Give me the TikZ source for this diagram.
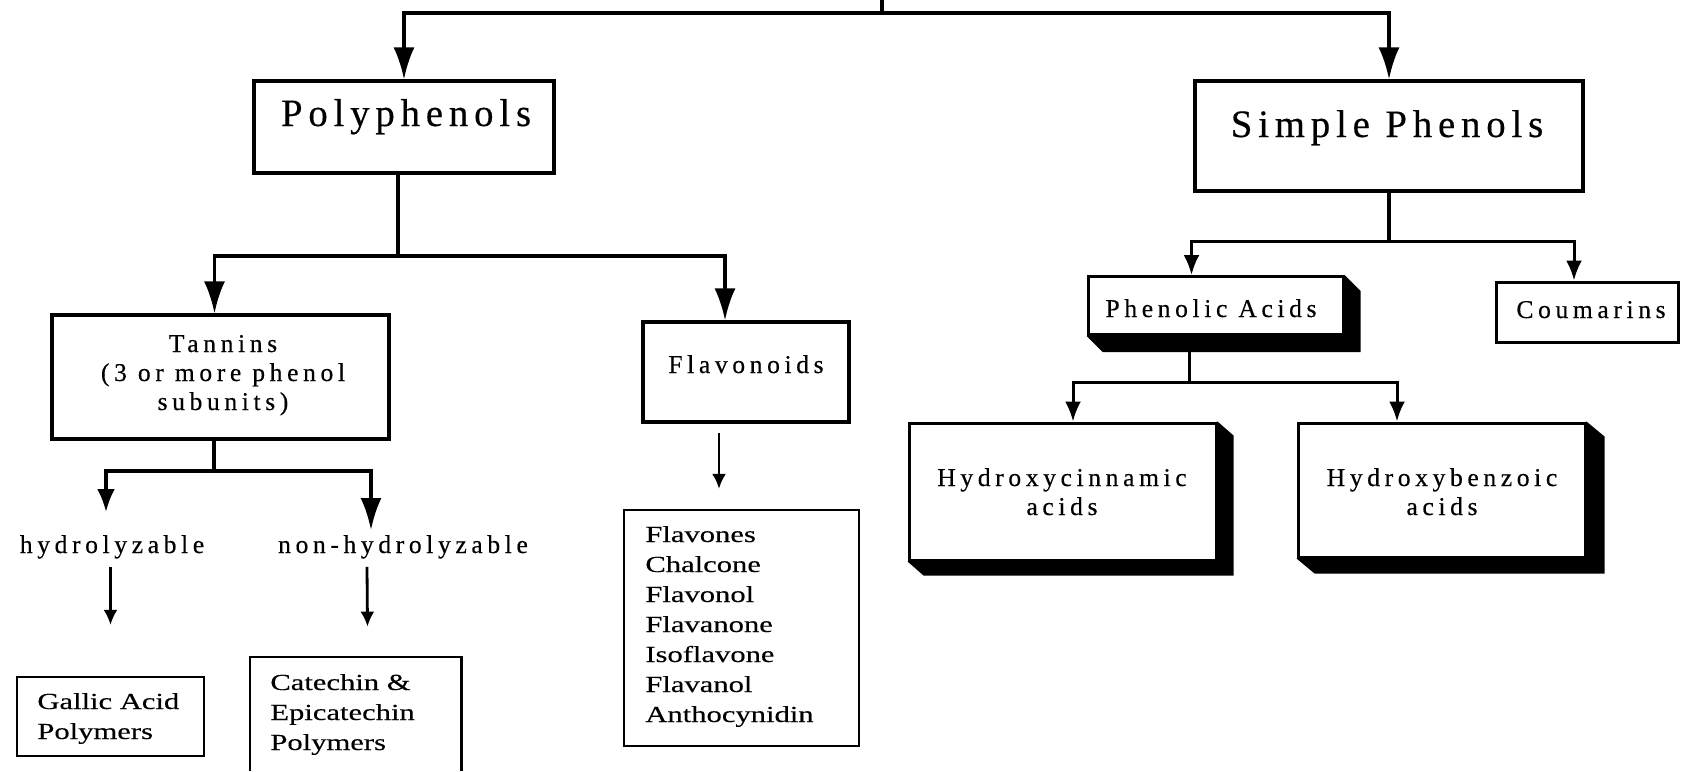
\documentclass[tikz,border=0pt]{standalone}
\usepackage{fontspec}
\setmainfont{Liberation Serif}
\newfontfamily\hdfont[LetterSpace=15,FakeBold=0.4]{Liberation Serif}
\newfontfamily\mdfont[LetterSpace=18,FakeBold=0.4]{Liberation Serif}
\newfontfamily\lsfont[FakeStretch=1.33,FakeBold=0.3]{Liberation Serif}
\usetikzlibrary{arrows.meta,backgrounds}
\tikzset{
  ln/.style={line width=1.7pt},
  lnb/.style={line width=1.5pt},
  bigarr/.style={ln,-{Latex[length=16pt,width=10.5pt]}},
  midarr/.style={ln,-{Latex[length=11.5pt,width=9pt]}},
  smarr/.style={line width=1.4pt,-{Latex[length=7.5pt,width=7pt]}},
  sparr/.style={lnb,-{Latex[length=10pt,width=8pt]}},
  box/.style={draw, line width=1.6pt, inner sep=0pt, fill=white},
  sbox/.style={draw, line width=1.5pt, inner sep=0pt, fill=white},
  thinbox/.style={draw, line width=1.1pt, inner sep=0pt},
  hd/.style={font=\hdfont\fontsize{19.4}{23}\selectfont, inner sep=0pt, anchor=base},
  md/.style={font=\mdfont\fontsize{12.8}{14.5}\selectfont, inner sep=0pt, anchor=base, align=center},
  ls/.style={font=\lsfont\fontsize{11.5}{15}\selectfont, inner sep=0pt, anchor=base west, align=left},
  shadowfill/.style={fill=black}
}
\begin{document}
\begin{tikzpicture}[x=0.5pt,y=-0.5pt]
\useasboundingbox (0,0) rectangle (1681,771);

% boxes
\node[box, minimum width=150pt, minimum height=46pt] (poly) at (404,127) {};
\node[box, minimum width=194pt, minimum height=55pt] (simple) at (1389,136) {};
\node[box, minimum width=168.5pt, minimum height=62pt] (tannins) at (220.5,377) {};
\node[box, minimum width=103pt, minimum height=50pt] (flav) at (746,372) {};
\node[thinbox, minimum width=93.5pt, minimum height=39.5pt] (gallic) at (110.5,716.5) {};
\node[inner sep=0pt, minimum width=105.5pt, minimum height=57pt] (cat) at (355.5,714) {};
\draw[line width=1.1pt] (cat.south west) |- (cat.north east) -- (cat.south east);
\node[thinbox, minimum width=117.5pt, minimum height=118pt] (flavlist) at (741.5,628) {};
\node[sbox, minimum width=127.5pt, minimum height=29pt] (phen) at (1215.5,305.5) {};
\node[sbox, minimum width=91pt, minimum height=30pt] (coum) at (1587,312) {};
\node[sbox, minimum width=153.5pt, minimum height=68.5pt] (hcin) at (1062.5,491.5) {};
\node[sbox, minimum width=143.5pt, minimum height=67pt] (hbenz) at (1441.5,490) {};

% 3D shadows
\begin{scope}[on background layer]
\fill[shadowfill] (phen.north east) -- ++(8pt,-8pt) -- ([shift={(8pt,-8pt)}]phen.south east) -- ([shift={(8pt,-8pt)}]phen.south west) -- (phen.south west) -- cycle;
\fill[shadowfill] (hcin.north east) -- ++(8pt,-7pt) -- ([shift={(8pt,-7pt)}]hcin.south east) -- ([shift={(8pt,-7pt)}]hcin.south west) -- (hcin.south west) -- cycle;
\fill[shadowfill] (hbenz.north east) -- ++(9pt,-7.5pt) -- ([shift={(9pt,-7.5pt)}]hbenz.south east) -- ([shift={(9pt,-7.5pt)}]hbenz.south west) -- (hbenz.south west) -- cycle;
\end{scope}

% texts
\node[hd] (polyT) at (406,126) {Polyphenols};
\node[hd] (simpleT) at (1387,137) {Simple Phenols};
\node[md] (tanT) at (223,410) {Tannins\\(3 or more phenol\\subunits)};
\node[md] (flavT) at (746,373) {Flavonoids};
\node[md] (hyd) at (112,553) {hydrolyzable};
\node[md] (nh) at (403,553) {non-hydrolyzable};
\node[ls] (gallicT) at (37,739) {Gallic Acid\\Polymers};
\node[ls] (catT) at (270,750) {Catechin \&\\Epicatechin\\Polymers};
\node[ls] (flavlistT) at (645,722) {Flavones\\Chalcone\\Flavonol\\Flavanone\\Isoflavone\\Flavanol\\Anthocynidin};
\node[md] (phenT) at (1211,317) {Phenolic Acids};
\node[md] (coumT) at (1591,318) {Coumarins};
\node[md] (hcinT) at (1062,515) {Hydroxycinnamic\\acids};
\node[md] (hbenzT) at (1442,515) {Hydroxybenzoic\\acids};

% connectors
\coordinate (rootstub) at (882,0);
\coordinate (rootj) at (882,13);
\draw[ln] (rootstub) -- (rootj);
\draw[bigarr] (rootj) -| (poly.north);
\draw[bigarr] (rootj) -| (simple.north);

\coordinate (pj) at (398,256);
\draw[ln] (pj |- poly.south) -- (pj);
\draw[bigarr] (pj) -| ([xshift=-3pt]tannins.north);
\draw[bigarr] (pj) -| ([xshift=-10.5pt]flav.north);

\coordinate (tj) at (214,471);
\coordinate (hydtip) at (106,512);
\coordinate (nhtip) at (371,530);
\draw[ln] (tj |- tannins.south) -- (tj);
\draw[midarr] (tj) -| (hydtip);
\draw[bigarr] (tj) -| (nhtip);

\draw[smarr, shorten <=4pt, shorten >=25.5pt] (hyd.south -| gallic.north) -- (gallic.north);
\draw[smarr] ([xshift=-18pt,yshift=-4pt]nh.south) -- ([xshift=6pt,yshift=15pt]cat.north);
\draw[smarr] ([xshift=-13.5pt,yshift=-4.5pt]flav.south) -- ([xshift=-11.25pt,yshift=10pt]flavlist.north);

\coordinate (sj) at (1389,241);
\draw[ln] (simple.south) -- (sj);
\draw[sparr] (sj) -| ([xshift=-12pt]phen.north);
\draw[sparr] (sj) -| ([xshift=-6.5pt]coum.north);

\coordinate (phj) at (1189,382);
\draw[lnb] (phj |- phen.south) -- (phj);
\draw[sparr] (phj) -| ([xshift=5.25pt]hcin.north);
\draw[sparr] (phj) -| ([xshift=-22.25pt]hbenz.north);
\end{tikzpicture}
\end{document}
